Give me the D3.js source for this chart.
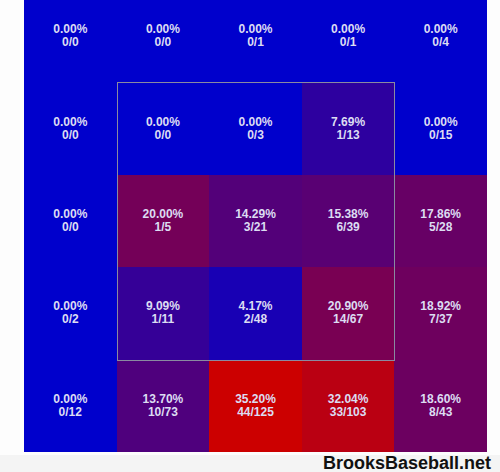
<!DOCTYPE html>
<html>
<head>
<meta charset="utf-8">
<script src="https://cdn.jsdelivr.net/npm/d3@7"></script>
<style>
html,body{margin:0;padding:0;background:#fdfdfd;}
svg{display:block;}
</style>
</head>
<body>
<svg id="chart" width="500" height="472"></svg>
<script>
// Zone rows (top to bottom), columns (left to right)
const rows = [0, 1, 2, 3, 4];
const cols = [0, 1, 2, 3, 4];
const hits = [
  [0, 0, 0, 0, 0],
  [0, 0, 0, 1, 0],
  [0, 1, 3, 6, 5],
  [0, 1, 2, 14, 7],
  [0, 10, 44, 33, 8]
];
const totals = [
  [0, 0, 1, 1, 4],
  [0, 0, 3, 13, 15],
  [0, 5, 21, 39, 28],
  [2, 11, 48, 67, 37],
  [12, 73, 125, 103, 43]
];
const zoneRows = [1, 3];
const zoneCols = [1, 3];
const credit = "BrooksBaseball.net";

const svg = d3.select("#chart");
const x = d3.scaleBand().domain(cols).range([24, 487]).padding(0);
const y = d3.scaleBand().domain(rows).range([-10, 452]).padding(0);

const cells = [];
rows.forEach(r => cols.forEach(c => {
  const h = hits[r][c], t = totals[r][c];
  cells.push({r, c, h, t, p: t > 0 ? h / t : 0});
}));
const maxP = d3.max(cells, d => d.p);
const color = d3.scaleLinear().domain([0, maxP]).range(["#0000cc", "#cc0000"]).interpolate(d3.interpolateRgb);

svg.append("rect").attr("x", 0).attr("y", 455).attr("width", 500).attr("height", 17).attr("fill", "#f4f4f4");

const g = svg.append("g");
g.selectAll("rect.cell").data(cells).join("rect")
  .attr("class", "cell")
  .attr("x", d => Math.round(x(d.c))).attr("y", d => Math.round(y(d.r)))
  .attr("width", d => Math.round(x(d.c) + x.bandwidth()) - Math.round(x(d.c)))
  .attr("height", d => Math.round(y(d.r) + y.bandwidth()) - Math.round(y(d.r)))
  .attr("shape-rendering", "crispEdges")
  .attr("fill", d => color(d.p));

const labels = g.selectAll("text.lab").data(cells).join("text")
  .attr("class", "lab")
  .attr("text-anchor", "middle")
  .attr("font-family", "Liberation Sans, Arial, sans-serif")
  .attr("font-weight", "bold")
  .attr("font-size", 12)
  .attr("fill", "#dcdcf2");
labels.append("tspan")
  .attr("x", d => x(d.c) + x.bandwidth() / 2)
  .attr("y", d => y(d.r) + y.bandwidth() / 2 - 3)
  .text(d => (d.p * 100).toFixed(2) + "%");
labels.append("tspan")
  .attr("x", d => x(d.c) + x.bandwidth() / 2)
  .attr("y", d => y(d.r) + y.bandwidth() / 2 + 10)
  .text(d => d.h + "/" + d.t);

svg.append("rect")
  .attr("x", Math.round(x(zoneCols[0])) + 0.5)
  .attr("y", Math.round(y(zoneRows[0])) + 0.5)
  .attr("width", Math.round(x(zoneCols[1]) + x.bandwidth()) - Math.round(x(zoneCols[0])))
  .attr("height", Math.round(y(zoneRows[1]) + y.bandwidth()) - Math.round(y(zoneRows[0])))
  .attr("fill", "none")
  .attr("stroke", "#8a8aa0")
  .attr("stroke-width", 1);

svg.append("text")
  .attr("x", 491).attr("y", 469)
  .attr("text-anchor", "end")
  .attr("font-family", "Liberation Sans, Arial, sans-serif")
  .attr("font-weight", "bold")
  .attr("font-size", 18)
  .attr("fill", "#111")
  .text(credit);
</script>
</body>
</html>
